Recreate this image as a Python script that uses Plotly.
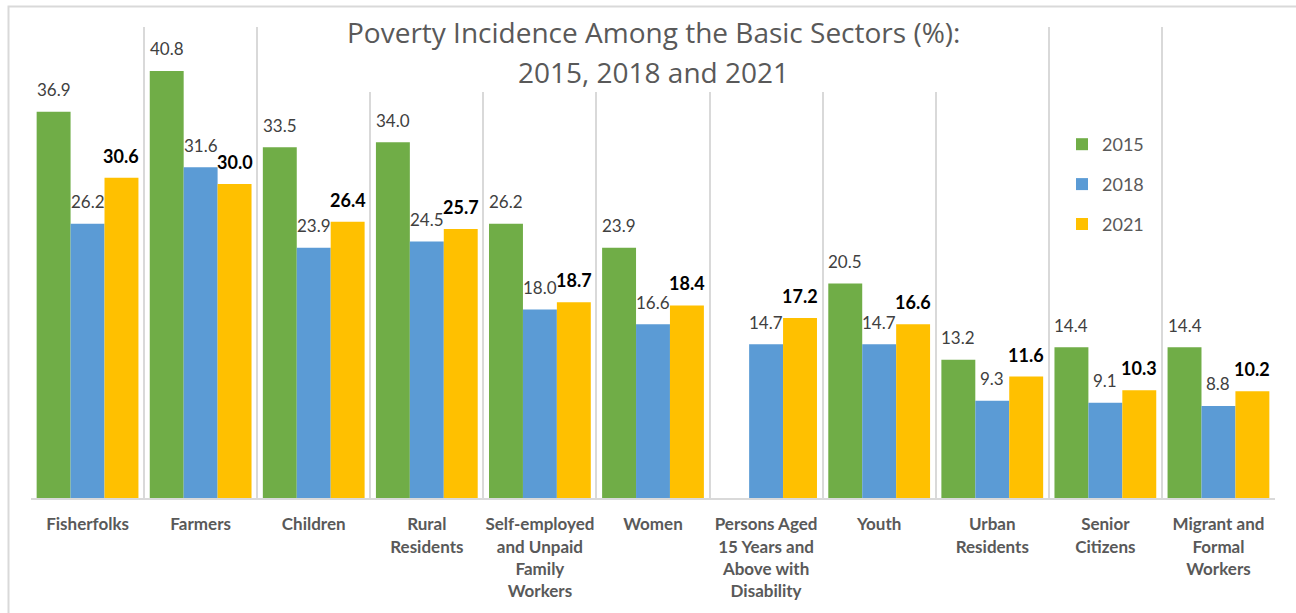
import plotly.graph_objects as go

# Basic sectors and poverty incidence (%) by survey year
sectors = [
    "Fisherfolks",
    "Farmers",
    "Children",
    "Rural<br>Residents",
    "Self-employed<br>and Unpaid<br>Family<br>Workers",
    "Women",
    "Persons Aged<br>15 Years and<br>Above with<br>Disability",
    "Youth",
    "Urban<br>Residents",
    "Senior<br>Citizens",
    "Migrant and<br>Formal<br>Workers",
]
inc_2015 = [36.9, 40.8, 33.5, 34.0, 26.2, 23.9, None, 20.5, 13.2, 14.4, 14.4]
inc_2018 = [26.2, 31.6, 23.9, 24.5, 18.0, 16.6, 14.7, 14.7, 9.3, 9.1, 8.8]
inc_2021 = [30.6, 30.0, 26.4, 25.7, 18.7, 18.4, 17.2, 16.6, 11.6, 10.3, 10.2]

years = ["2015", "2018", "2021"]
series = [inc_2015, inc_2018, inc_2021]
colors = ["#70AD47", "#5B9BD5", "#FFC000"]

FONT = "Lato"
TITLE_FONT = "Open Sans"
W, H = 1296, 613
M_L, M_R, M_T, M_B = 31, 21, 27, 115
plot_w = W - M_L - M_R
plot_h = H - M_T - M_B
BARGAP = 0.1

fig = go.Figure()
for yr, vals, col in zip(years, series, colors):
    fig.add_trace(go.Bar(
        x=sectors, y=vals, name=yr, legendgroup=yr,
        marker=dict(color=col, line=dict(width=0)),
        hoverinfo="skip",
    ))

# value labels above each bar (2021 emphasised)
cat_px = plot_w / len(sectors)
bar_px = cat_px * (1 - BARGAP) / len(series)
annotations = []
for k, (yr, vals) in enumerate(zip(years, series)):
    offset = (k - 1) * bar_px
    bold = yr == "2021"
    for cat, v in zip(sectors, vals):
        if v is None:
            continue
        annotations.append(dict(
            x=cat, y=v, xref="x", yref="y",
            text=f"<b>{v:.1f}</b>" if bold else f"{v:.1f}",
            showarrow=False, xshift=offset, yshift=22, yanchor="middle",
            font=dict(family=FONT, size=18 if bold else 17,
                      color="#000000" if bold else "#404040"),
        ))

# two-line chart title
px_to_paper_y = lambda py: (H - M_B - py) / plot_h
px_to_paper_x = lambda px: (px - M_L) / plot_w
annotations.append(dict(
    x=0.5, y=px_to_paper_y(32), xref="paper", yref="paper",
    text="Poverty Incidence Among the Basic Sectors (%):",
    showarrow=False, yanchor="middle",
    font=dict(family=TITLE_FONT, size=28, color="#595959"),
))
annotations.append(dict(
    x=0.5, y=px_to_paper_y(72), xref="paper", yref="paper",
    text="2015, 2018 and 2021",
    showarrow=False, yanchor="middle",
    font=dict(family=TITLE_FONT, size=28, color="#595959"),
))

shapes = [
    # white panel behind the title, hiding the gridlines there
    dict(type="rect", xref="paper", yref="paper", layer="above",
         x0=px_to_paper_x(343), x1=px_to_paper_x(977),
         y0=px_to_paper_y(92), y1=px_to_paper_y(20),
         fillcolor="white", line=dict(width=0)),
    # chart frame
    dict(type="rect", xref="paper", yref="paper", layer="above",
         x0=px_to_paper_x(8.5), x1=px_to_paper_x(1310),
         y0=px_to_paper_y(640), y1=px_to_paper_y(6.5),
         fillcolor="rgba(0,0,0,0)", line=dict(color="#D9D9D9", width=2)),
]

fig.update_layout(
    width=W, height=H,
    margin=dict(l=M_L, r=M_R, t=M_T, b=M_B),
    paper_bgcolor="white", plot_bgcolor="white",
    barmode="group", bargap=BARGAP, bargroupgap=0,
    font=dict(family=FONT, color="#595959"),
    annotations=annotations,
    shapes=shapes,
    showlegend=True,
    legend=dict(
        x=px_to_paper_x(1062), y=px_to_paper_y(126),
        xanchor="left", yanchor="top",
        font=dict(family=FONT, size=18, color="#595959"),
        tracegroupgap=13.5, bgcolor="rgba(0,0,0,0)",
    ),
    xaxis=dict(
        type="category", tickson="boundaries",
        showgrid=True, gridcolor="#D9D9D9", gridwidth=2,
        showline=True, linecolor="#D9D9D9", linewidth=2,
        ticks="", ticklabelstandoff=10, tickangle=0, automargin=False,
        tickfont=dict(family=FONT, size=17, color="#595959", weight="bold"),
        range=[-0.5, len(sectors) - 0.5],
    ),
    yaxis=dict(
        range=[0, 45], showgrid=False, showticklabels=False,
        zeroline=False, showline=False, ticks="", automargin=False,
    ),
)

fig.write_html("out.html")
